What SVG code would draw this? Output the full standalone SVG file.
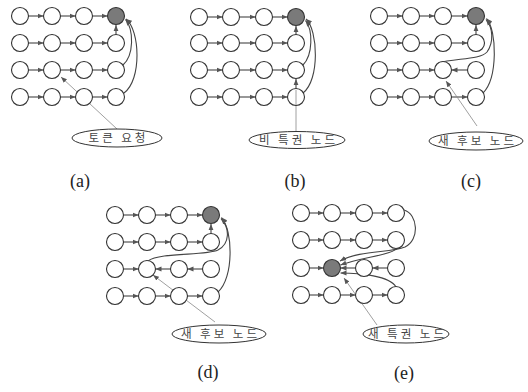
<svg xmlns="http://www.w3.org/2000/svg" width="528" height="392" viewBox="0 0 528 392">
<defs>
<style>
.n{fill:#fff;stroke:#333;stroke-width:1.1}
.g{fill:#7a7a7a;stroke:#333;stroke-width:1.1}
.c{fill:none;stroke:#444;stroke-width:1.1;marker-end:url(#ah)}
.p{fill:none;stroke:#888;stroke-width:0.8}
.pa{fill:none;stroke:#888;stroke-width:0.8;marker-end:url(#ah)}
.e{fill:#fff;stroke:#333;stroke-width:1}
.t{font-family:"Noto Sans CJK KR","Noto Sans",sans-serif;font-size:11.5px;fill:#444;letter-spacing:3px;text-anchor:middle}
.l{font-family:"Liberation Serif",serif;font-size:18px;fill:#222;text-anchor:middle}
</style>
<marker id="ah" viewBox="0 0 10 10" refX="10" refY="5" markerWidth="6" markerHeight="6" orient="auto" markerUnits="userSpaceOnUse">
<path d="M0,1 L10,5 L0,9 z" fill="#555"/>
</marker>
</defs>
<rect width="528" height="392" fill="#fff"/>

<g id="connectors">
<!-- (a) -->
<path class="c" d="M28.5,16H43.5"/><path class="c" d="M60.5,16H75.5"/><path class="c" d="M92.5,16H107.5"/>
<path class="c" d="M28.5,43H43.5"/><path class="c" d="M60.5,43H75.5"/><path class="c" d="M92.5,43H107.5"/>
<path class="c" d="M28.5,70H43.5"/><path class="c" d="M60.5,70H75.5"/><path class="c" d="M92.5,70H107.5"/>
<path class="c" d="M28.5,97H43.5"/><path class="c" d="M60.5,97H75.5"/><path class="c" d="M92.5,97H107.5"/>
<path class="c" d="M116,34.5V25"/>
<path class="c" d="M123,65C134,55 134,30 125.5,19.5"/>
<path class="c" d="M124,93C142,80 140,30 126,19"/>
<path class="pa" d="M117,129L61,77"/>
<!-- (b) -->
<path class="c" d="M207.5,17H222.5"/><path class="c" d="M239.5,17H255.5"/><path class="c" d="M272.5,17H287.5"/>
<path class="c" d="M207.5,43H222.5"/><path class="c" d="M239.5,43H255.5"/><path class="c" d="M272.5,43H287.5"/>
<path class="c" d="M207.5,70H222.5"/><path class="c" d="M239.5,70H255.5"/><path class="c" d="M272.5,70H287.5"/>
<path class="c" d="M207.5,97H222.5"/><path class="c" d="M239.5,97H255.5"/><path class="c" d="M272.5,97H287.5"/>
<path class="c" d="M296,34.5V26"/>
<path class="c" d="M296,88.5V79"/>
<path class="c" d="M303,65C313,55 313,30 305.5,20.5"/>
<path class="c" d="M303,93C320,80 318,30 306,19"/>
<path class="p" d="M296,132V90"/>
<!-- (c) -->
<path class="c" d="M387.5,16H402.5"/><path class="c" d="M419.5,16H434.5"/><path class="c" d="M451.5,16H467.5"/>
<path class="c" d="M387.5,43H402.5"/><path class="c" d="M419.5,43H434.5"/><path class="c" d="M451.5,43H467.5"/>
<path class="c" d="M387.5,70H402.5"/><path class="c" d="M419.5,70H434.5"/><path class="c" d="M467.5,70H451.5"/>
<path class="c" d="M387.5,97H402.5"/><path class="c" d="M419.5,97H434.5"/><path class="c" d="M451.5,97H467.5"/>
<path class="c" d="M476,34.5V25"/>
<path class="c" d="M438,63C455,58 480,60 487,52C494,42 493,28 486,19.5"/>
<path class="c" d="M483,93C498,78 497,30 486.5,18.5"/>
<path class="pa" d="M477,126L446,81"/>
<!-- (d) -->
<path class="c" d="M123.5,215H138.5"/><path class="c" d="M155.5,215H170.5"/><path class="c" d="M187.5,215H202.5"/>
<path class="c" d="M123.5,242H138.5"/><path class="c" d="M155.5,242H170.5"/><path class="c" d="M187.5,242H202.5"/>
<path class="c" d="M123.5,269H138.5"/><path class="c" d="M170.5,269H155.5"/><path class="c" d="M202.5,269H187.5"/>
<path class="c" d="M123.5,296H138.5"/><path class="c" d="M155.5,296H170.5"/><path class="c" d="M187.5,296H202.5"/>
<path class="c" d="M211,233.5V224"/>
<path class="c" d="M148,261C160,252 205,256 218,250C230,244 230,228 221,218.5"/>
<path class="c" d="M218,292C234,278 233,230 221.5,217.5"/>
<path class="pa" d="M215,322L153,275"/>
<!-- (e) -->
<path class="c" d="M309.5,213H323.5"/><path class="c" d="M340.5,213H355.5"/><path class="c" d="M372.5,213H387.5"/>
<path class="c" d="M309.5,240H323.5"/><path class="c" d="M340.5,240H355.5"/><path class="c" d="M372.5,240H387.5"/>
<path class="c" d="M309.5,268H323.5"/><path class="c" d="M355.5,268H340.5"/><path class="c" d="M387.5,268H372.5"/>
<path class="c" d="M309.5,295H323.5"/><path class="c" d="M340.5,295H355.5"/><path class="c" d="M372.5,295H387.5"/>
<path class="c" d="M404,210C418,214 420,240 405,247C390,253 360,250 340,261"/>
<path class="c" d="M400,246C392,256 365,256 340.5,265"/>
<path class="c" d="M396,287C390,276 360,273 340.5,273"/>
<path class="pa" d="M377,325L344,278"/>
</g>

<g id="panel-a">
<circle class="n" cx="20" cy="16" r="8.5"/><circle class="n" cx="52" cy="16" r="8.5"/><circle class="n" cx="84" cy="16" r="8.5"/><circle class="g" cx="116" cy="16" r="8.5"/>
<circle class="n" cx="20" cy="43" r="8.5"/><circle class="n" cx="52" cy="43" r="8.5"/><circle class="n" cx="84" cy="43" r="8.5"/><circle class="n" cx="116" cy="43" r="8.5"/>
<circle class="n" cx="20" cy="70" r="8.5"/><circle class="n" cx="52" cy="70" r="8.5"/><circle class="n" cx="84" cy="70" r="8.5"/><circle class="n" cx="116" cy="70" r="8.5"/>
<circle class="n" cx="20" cy="97" r="8.5"/><circle class="n" cx="52" cy="97" r="8.5"/><circle class="n" cx="84" cy="97" r="8.5"/><circle class="n" cx="116" cy="97" r="8.5"/>
</g>
<g id="label-a"><ellipse class="e" cx="117" cy="138" rx="45" ry="9"/><text class="t" x="118.5" y="142">토큰 요청</text></g>
<g id="caption-a"><text class="l" x="80" y="187">(a)</text></g>

<g id="panel-b">
<circle class="n" cx="199" cy="17" r="8.5"/><circle class="n" cx="231" cy="17" r="8.5"/><circle class="n" cx="264" cy="17" r="8.5"/><circle class="g" cx="296" cy="17" r="8.5"/>
<circle class="n" cx="199" cy="43" r="8.5"/><circle class="n" cx="231" cy="43" r="8.5"/><circle class="n" cx="264" cy="43" r="8.5"/><circle class="n" cx="296" cy="43" r="8.5"/>
<circle class="n" cx="199" cy="70" r="8.5"/><circle class="n" cx="231" cy="70" r="8.5"/><circle class="n" cx="264" cy="70" r="8.5"/><circle class="n" cx="296" cy="70" r="8.5"/>
<circle class="n" cx="199" cy="97" r="8.5"/><circle class="n" cx="231" cy="97" r="8.5"/><circle class="n" cx="264" cy="97" r="8.5"/><circle class="n" cx="296" cy="97" r="8.5" fill-opacity="0"/>
</g>
<g id="label-b"><ellipse class="e" cx="297" cy="140" rx="48" ry="8.5"/><text class="t" x="298.5" y="144">비 특권 노드</text></g>
<g id="caption-b"><text class="l" x="295" y="187">(b)</text></g>

<g id="panel-c">
<circle class="n" cx="379" cy="16" r="8.5"/><circle class="n" cx="411" cy="16" r="8.5"/><circle class="n" cx="443" cy="16" r="8.5"/><circle class="g" cx="476" cy="16" r="8.5"/>
<circle class="n" cx="379" cy="43" r="8.5"/><circle class="n" cx="411" cy="43" r="8.5"/><circle class="n" cx="443" cy="43" r="8.5"/><circle class="n" cx="476" cy="43" r="8.5"/>
<circle class="n" cx="379" cy="70" r="8.5"/><circle class="n" cx="411" cy="70" r="8.5"/><circle class="n" cx="443" cy="70" r="8.5"/><circle class="n" cx="476" cy="70" r="8.5"/>
<circle class="n" cx="379" cy="97" r="8.5"/><circle class="n" cx="411" cy="97" r="8.5"/><circle class="n" cx="443" cy="97" r="8.5"/><circle class="n" cx="476" cy="97" r="8.5"/>
</g>
<g id="label-c"><ellipse class="e" cx="476" cy="141" rx="47" ry="9"/><text class="t" x="477.5" y="145">새 후보 노드</text></g>
<g id="caption-c"><text class="l" x="471" y="187">(c)</text></g>

<g id="panel-d">
<circle class="n" cx="115" cy="215" r="8.5"/><circle class="n" cx="147" cy="215" r="8.5"/><circle class="n" cx="179" cy="215" r="8.5"/><circle class="g" cx="211" cy="215" r="8.5"/>
<circle class="n" cx="115" cy="242" r="8.5"/><circle class="n" cx="147" cy="242" r="8.5"/><circle class="n" cx="179" cy="242" r="8.5"/><circle class="n" cx="211" cy="242" r="8.5"/>
<circle class="n" cx="115" cy="269" r="8.5"/><circle class="n" cx="147" cy="269" r="8.5"/><circle class="n" cx="179" cy="269" r="8.5"/><circle class="n" cx="211" cy="269" r="8.5"/>
<circle class="n" cx="115" cy="296" r="8.5"/><circle class="n" cx="147" cy="296" r="8.5"/><circle class="n" cx="179" cy="296" r="8.5"/><circle class="n" cx="211" cy="296" r="8.5"/>
</g>
<g id="label-d"><ellipse class="e" cx="219" cy="334" rx="47" ry="9"/><text class="t" x="220.5" y="338">새 후보 노드</text></g>
<g id="caption-d"><text class="l" x="208" y="378">(d)</text></g>

<g id="panel-e">
<circle class="n" cx="301" cy="213" r="8.5"/><circle class="n" cx="332" cy="213" r="8.5"/><circle class="n" cx="364" cy="213" r="8.5"/><circle class="n" cx="396" cy="213" r="8.5"/>
<circle class="n" cx="301" cy="240" r="8.5"/><circle class="n" cx="332" cy="240" r="8.5"/><circle class="n" cx="364" cy="240" r="8.5"/><circle class="n" cx="396" cy="240" r="8.5"/>
<circle class="n" cx="301" cy="268" r="8.5"/><circle class="g" cx="332" cy="268" r="8.5"/><circle class="n" cx="364" cy="268" r="8.5"/><circle class="n" cx="396" cy="268" r="8.5"/>
<circle class="n" cx="301" cy="295" r="8.5"/><circle class="n" cx="332" cy="295" r="8.5"/><circle class="n" cx="364" cy="295" r="8.5"/><circle class="n" cx="396" cy="295" r="8.5"/>
</g>
<g id="label-e"><ellipse class="e" cx="406" cy="334" rx="43" ry="9"/><text class="t" x="407.5" y="338">새 특권 노드</text></g>
<g id="caption-e"><text class="l" x="404" y="379">(e)</text></g>
</svg>
